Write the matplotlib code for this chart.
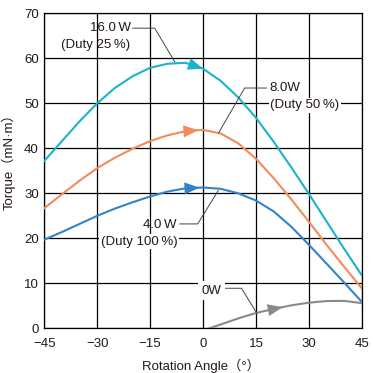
import numpy as np
import matplotlib
matplotlib.use("Agg")
import matplotlib.pyplot as plt
from matplotlib.patches import ArrowStyle

# ---- data ----
angles = [-45, -40, -35, -30, -25, -20, -15, -10, -5, 0, 5, 10, 15, 20, 25, 30, 35, 40, 45]
torque_16w = [37.2, 41.6, 46.0, 50.0, 53.4, 56.0, 57.9, 58.8, 59.0, 57.7, 55.0, 51.3, 46.8, 41.5, 35.8, 29.9, 23.8, 17.7, 11.8]
torque_8w = [26.7, 29.8, 32.8, 35.6, 37.9, 39.9, 41.6, 42.9, 43.8, 44.1, 43.3, 41.1, 37.7, 33.4, 28.7, 23.7, 18.6, 13.7, 8.9]
torque_4w = [19.7, 21.4, 23.2, 25.0, 26.6, 28.0, 29.3, 30.4, 31.1, 31.3, 31.0, 30.0, 28.4, 26.0, 22.6, 18.6, 14.4, 10.2, 5.9]
angles_0w = [1.7, 5, 10, 15, 20, 25, 30, 35, 40, 45]
torque_0w = [0.0, 0.85, 2.2, 3.4, 4.3, 5.1, 5.7, 6.05, 6.1, 5.6]

xticks = [-45, -30, -15, 0, 15, 30, 45]
xticklabels = ["\u221245", "\u221230", "\u221215", "0", "15", "30", "45"]
yticks = [0, 10, 20, 30, 40, 50, 60, 70]

c16 = "#1ab4c9"
c8 = "#f58a5b"
c4 = "#3283c8"
c0 = "#8a8a8a"
txt = "#231815"
lead = "#444444"

plt.rcParams['font.family'] = ['Liberation Sans', 'Noto Sans CJK JP', 'DejaVu Sans']

fig = plt.figure(figsize=(3.73, 3.73), dpi=100)
ax = fig.add_axes([0.1188, 0.1198, 0.8509, 0.8445])

lw = 1.5
ax.plot(angles, torque_16w, color=c16, lw=lw, zorder=3, solid_joinstyle='round')
ax.plot(angles, torque_8w, color=c8, lw=lw, zorder=3, solid_joinstyle='round')
ax.plot(angles, torque_4w, color=c4, lw=lw, zorder=3, solid_joinstyle='round')
ax.plot(angles_0w, torque_0w, color=c0, lw=lw, zorder=3, solid_joinstyle='round')

def arrow(xs, ys, tip, color, back=3.0):
    t_y = np.interp(tip, xs, ys)
    b_y = np.interp(tip - back, xs, ys)
    ax.annotate("", xy=(tip, t_y), xytext=(tip - back, b_y),
                arrowprops=dict(arrowstyle=ArrowStyle("-|>", head_length=0.9, head_width=0.36),
                                mutation_scale=12, color=color, lw=0, shrinkA=0, shrinkB=0),
                zorder=4)

arrow(angles, torque_16w, 0.0, c16)
arrow(angles, torque_8w, -1.3, c8)
arrow(angles, torque_4w, -1.0, c4)
arrow(angles_0w, torque_0w, 22.6, c0)

ax.set_xlim(-45, 45)
ax.set_ylim(0, 70)
ax.set_xticks(xticks)
ax.set_xticklabels(xticklabels)
ax.set_yticks(yticks)
ax.tick_params(length=0, labelsize=9.5, colors=txt)
ax.tick_params(axis='x', pad=7)
ax.tick_params(axis='y', pad=4)
ax.grid(True, color='black', lw=0.9, zorder=1)
for s in ax.spines.values():
    s.set_color('black')
    s.set_linewidth(0.9)

ax.set_xlabel("Rotation Angle\uff08\u00b0\uff09", fontsize=9.5, color=txt)
ax.xaxis.set_label_coords(0.494, -0.095)
ax.set_ylabel("Torque\uff08mN\u00b7m\uff09", fontsize=9.5, color=txt, va='center')
ax.yaxis.set_label_coords(-0.114, 0.54)

fs = 9.5
box = dict(facecolor='white', edgecolor='none', pad=1.0)
# 16.0W
ax.text(-20.3, 66.7, "16.0\u2009W", ha='right', va='center', fontsize=fs, color=txt, zorder=5)
ax.text(-20.8, 62.9, "(Duty 25\u2009%)", ha='right', va='center', fontsize=fs, color=txt, zorder=5)
ax.plot([-19.9, -13.7, -8.0], [66.7, 66.7, 59.2], color=lead, lw=0.7, zorder=4)
# 8.0W
ax.text(18.8, 53.3, "8.0W", ha='left', va='center', fontsize=fs, color=txt, zorder=5)
ax.text(19.0, 49.6, "(Duty 50\u2009%)", ha='left', va='center', fontsize=fs, color=txt, zorder=5, bbox=box)
ax.plot([18.0, 11.8, 4.4], [53.4, 53.4, 43.4], color=lead, lw=0.7, zorder=4)
# 4.0W
ax.text(-7.5, 23.0, "4.0\u2009W", ha='right', va='center', fontsize=fs, color=txt, zorder=5)
ax.text(-7.3, 19.2, "(Duty 100\u2009%)", ha='right', va='center', fontsize=fs, color=txt, zorder=5, bbox=box)
ax.plot([-6.6, -1.5, 4.3], [23.2, 23.2, 30.6], color=lead, lw=0.7, zorder=4)
# 0W
ax.text(2.5, 8.4, "0W", ha='center', va='center', fontsize=fs, color=txt, zorder=5,
        bbox=dict(facecolor='white', edgecolor='none', pad=2.5))
ax.plot([5.6, 10.9, 15.3], [8.9, 8.9, 3.3], color=lead, lw=0.7, zorder=4)

fig.savefig("out.png", dpi=100)
